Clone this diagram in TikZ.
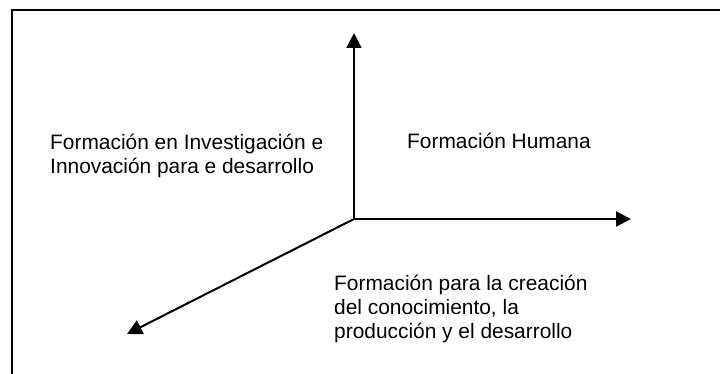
\documentclass[tikz,border=0pt]{standalone}
\usepackage{fontspec}
\setmainfont{Liberation Sans}
\usetikzlibrary{arrows.meta}
\begin{document}
\begin{tikzpicture}[x=1pt,y=-1pt,
  frameline/.style={line width=2pt},
  axis/.style={line width=2pt,-{Triangle[length=15pt,width=15pt]}},
  lbl/.style={anchor=base west,inner sep=0pt,align=left,
    font=\fontsize{20.9}{23.8}\selectfont}]
\useasboundingbox (0,0) rectangle (720,374);
\fill[white] (0,0) rectangle (720,374);
\coordinate (tl) at (12,10);
\coordinate (tr) at (720,10);
\coordinate (bl) at (12,374);
\draw[frameline] (tr) -- (tl) -- (bl);
\coordinate (O) at (354,219);
\coordinate (up) at (354,33);
\coordinate (right) at (631,219);
\coordinate (diag) at (127,334);
\draw[axis] (O) -- (up);
\draw[axis] (O) -- (right);
\draw[axis] (O) -- (diag);
\node[lbl] (inv) at (50,173.5) {Formación en Investigación e\\Innovación para e desarrollo};
\node[lbl] (hum) at (407,149) {Formación Humana};
\node[lbl] (cre) at (334,338.5) {Formación para la creación\\del conocimiento, la\\producción y el desarrollo};
\end{tikzpicture}
\end{document}
